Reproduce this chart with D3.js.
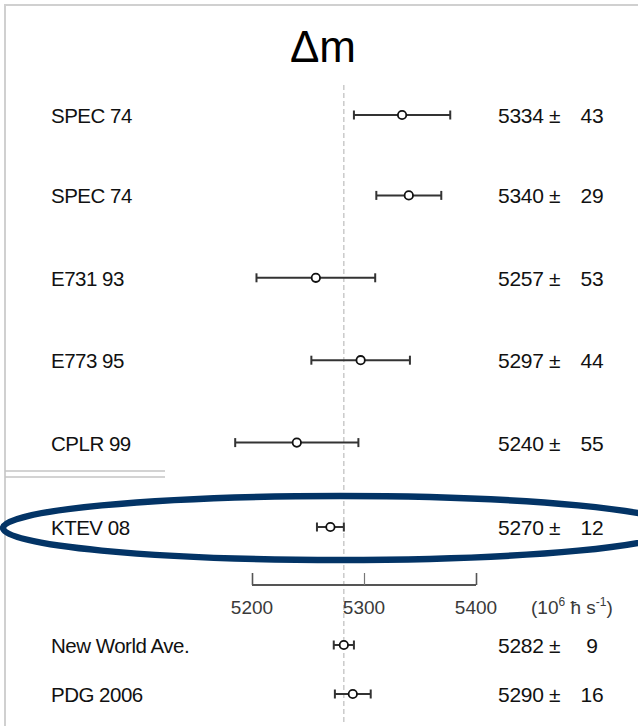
<!DOCTYPE html>
<html>
<head>
<meta charset="utf-8">
<script src="https://cdn.jsdelivr.net/npm/d3@7"></script>
<style>
  html, body { margin: 0; padding: 0; background: #fff; }
  svg { display: block; font-family: "Liberation Sans", Arial, Helvetica, sans-serif; }
</style>
</head>
<body>
<svg id="chart" width="638" height="728"></svg>
<script>
// ---- data ----
const experiments = ["SPEC 74", "SPEC 74", "E731 93", "E773 95", "CPLR 99", "KTEV 08"];
const expValues   = [5334, 5340, 5257, 5297, 5240, 5270];
const expErrors   = [43, 29, 53, 44, 55, 12];

const summaries   = ["New World Ave.", "PDG 2006"];
const sumValues   = [5282, 5290];
const sumErrors   = [9, 16];

const tickValues  = [5200, 5300, 5400];
const referenceValue = 5282;
const highlighted = "KTEV 08";

// ---- layout ----
const svg = d3.select("#chart");
const W = 638, H = 728;

const x = d3.scaleLinear().domain([5200, 5400]).range([252, 476]);
const yExp = d3.scalePoint().domain(d3.range(experiments.length)).range([115, 527]);
const ySum = d3.scalePoint().domain(d3.range(summaries.length)).range([645, 694]);

const expRows = experiments.map((name, i) => ({name, v: expValues[i], e: expErrors[i], y: yExp(i) - (i > 0 && i < 5 ? 2 : 0)}));
const sumRows = summaries.map((name, i) => ({name, v: sumValues[i], e: sumErrors[i], y: ySum(i)}));
const allRows = expRows.concat(sumRows);

// frame
svg.append("line").attr("x1", 4).attr("x2", W).attr("y1", 5).attr("y2", 5)
  .attr("stroke", "#d0d0d0").attr("stroke-width", 2);
svg.append("line").attr("x1", 5).attr("x2", 5).attr("y1", 5).attr("y2", 726)
  .attr("stroke", "#d0d0d0").attr("stroke-width", 2);

// title
svg.append("text").attr("x", 323).attr("y", 62).attr("text-anchor", "middle")
  .attr("font-size", 44).attr("fill", "#000").text("Δm");

// reference dashed line
svg.append("line").attr("x1", x(referenceValue)).attr("x2", x(referenceValue))
  .attr("y1", 85).attr("y2", 724)
  .attr("stroke", "#bdbdbd").attr("stroke-width", 1.2).attr("stroke-dasharray", "5,3");

// separator double line
[471, 477].forEach(yy => svg.append("line").attr("x1", 5).attr("x2", 165)
  .attr("y1", yy).attr("y2", yy).attr("stroke", "#c4c4c4").attr("stroke-width", 1.3));

// axis
const axisY = 585;
const axisG = svg.append("g").attr("transform", `translate(0,${axisY})`)
  .call(d3.axisTop(x).tickValues(tickValues).tickSize(12).tickFormat(""));
axisG.select(".domain").attr("stroke", "#555").attr("stroke-width", 2)
  .attr("d", `M${x(5200)},0H${x(5400)}`);
axisG.selectAll(".tick line").attr("stroke", "#777").attr("stroke-width", 1.2);
axisG.selectAll(".tick").filter(d => d !== 5300).select("line").attr("stroke", "#555").attr("stroke-width", 1.6);

svg.append("g").selectAll("text").data(tickValues).join("text")
  .attr("x", d => x(d)).attr("y", 614).attr("text-anchor", "middle")
  .attr("font-size", 19).attr("fill", "#3a3a3a").text(d => d);

const unit = svg.append("text").attr("x", 531).attr("y", 614)
  .attr("font-size", 19).attr("fill", "#3a3a3a");
unit.append("tspan").text("(10");
unit.append("tspan").attr("dy", -8).attr("font-size", 12).text("6");
unit.append("tspan").attr("dy", 8).text(" ħ s");
unit.append("tspan").attr("dy", -8).attr("font-size", 12).text("-1");
unit.append("tspan").attr("dy", 8).text(")");

// highlight ellipse
const hl = expRows.find(r => r.name === highlighted);
svg.append("ellipse").attr("cx", 340).attr("cy", hl.y + 1).attr("rx", 337).attr("ry", 32)
  .attr("fill", "none").attr("stroke", "#033466").attr("stroke-width", 6.5);

// rows
const rowG = svg.append("g").selectAll("g").data(allRows).join("g");

rowG.append("text").attr("x", 51).attr("y", d => d.y + 8)
  .attr("font-size", 20.5).attr("letter-spacing", -0.5).attr("fill", "#111").text(d => d.name);

rowG.append("line").attr("x1", d => x(d.v - d.e)).attr("x2", d => x(d.v + d.e))
  .attr("y1", d => d.y).attr("y2", d => d.y).attr("stroke", "#333").attr("stroke-width", 2);
rowG.append("line").attr("x1", d => x(d.v - d.e)).attr("x2", d => x(d.v - d.e))
  .attr("y1", d => d.y - 4.5).attr("y2", d => d.y + 4.5).attr("stroke", "#333").attr("stroke-width", 2);
rowG.append("line").attr("x1", d => x(d.v + d.e)).attr("x2", d => x(d.v + d.e))
  .attr("y1", d => d.y - 4.5).attr("y2", d => d.y + 4.5).attr("stroke", "#333").attr("stroke-width", 2);
rowG.append("circle").attr("cx", d => x(d.v)).attr("cy", d => d.y).attr("r", 4.2)
  .attr("fill", "#fff").attr("stroke", "#111").attr("stroke-width", 1.8);

rowG.append("text").attr("x", 498).attr("y", d => d.y + 8)
  .attr("font-size", 21).attr("letter-spacing", -0.3).attr("fill", "#111").text(d => `${d.v} ±`);
rowG.append("text").attr("x", 592).attr("y", d => d.y + 8).attr("text-anchor", "middle")
  .attr("font-size", 21).attr("letter-spacing", -0.3).attr("fill", "#111").text(d => d.e);
</script>
</body>
</html>
